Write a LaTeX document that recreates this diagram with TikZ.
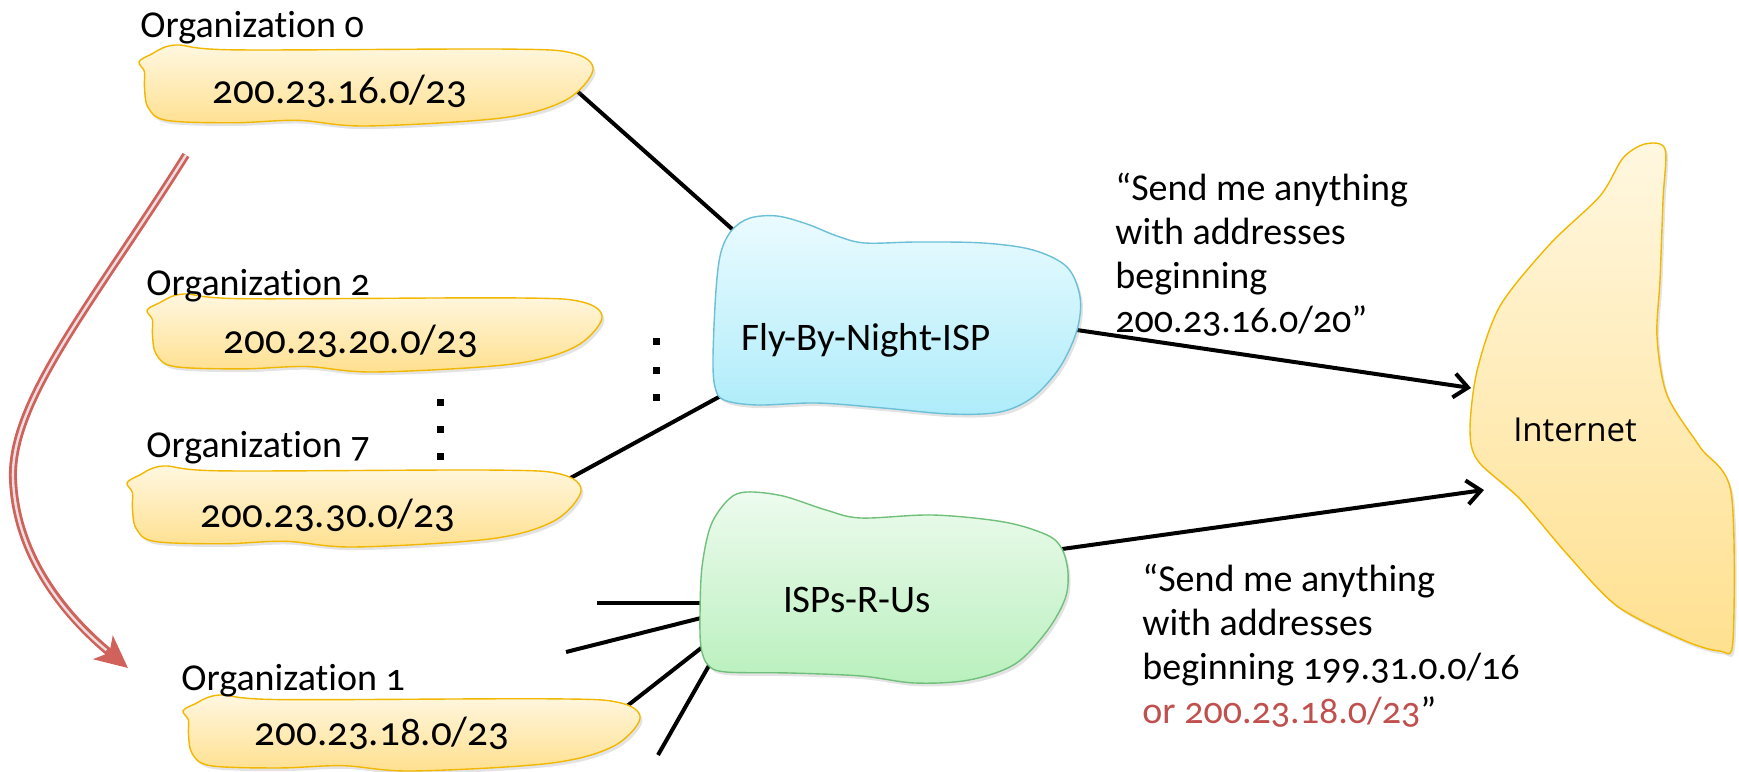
\documentclass[tikz,border=0pt]{standalone}
\usepackage{fontspec}
\setmainfont{Carlito}[Numbers=OldStyle, Ligatures=NoCommon]
\newfontfamily\inetfont{Open Sans}
\usepackage{xcolor}
\usetikzlibrary{arrows.meta,shadows,backgrounds}
\definecolor{orgtop}{HTML}{FFF7E0}
\definecolor{orgbot}{HTML}{FFE08F}
\definecolor{orgline}{HTML}{F2B700}
\definecolor{flytop}{HTML}{EAFBFF}
\definecolor{flybot}{HTML}{AEECFA}
\definecolor{flyline}{HTML}{6BBFD6}
\definecolor{isptop}{HTML}{EDFBEE}
\definecolor{ispbot}{HTML}{B9F0BD}
\definecolor{ispline}{HTML}{70BF7A}
\definecolor{movered}{HTML}{D0615B}
\definecolor{movecore}{HTML}{E8E0E0}
\definecolor{notered}{HTML}{C0504D}
\tikzset{
  blobshadow/.style={drop shadow={shadow xshift=1.2pt, shadow yshift=-1.6pt, opacity=0.22}},
  orgblob/.style={blobshadow, draw=orgline, line width=0.7pt, top color=orgtop, bottom color=orgbot},
  flyblob/.style={blobshadow, draw=flyline, line width=0.7pt, top color=flytop, bottom color=flybot},
  ispblob/.style={blobshadow, draw=ispline, line width=0.7pt, top color=isptop, bottom color=ispbot},
  link/.style={line width=2pt, draw=black},
  route/.style={link, -{Straight Barb[length=7pt,width=12pt]}},
  movearrow/.style={line width=4pt, draw=movered, -{Stealth[length=16pt,width=15pt,inset=4pt]},
    postaction={draw=movecore, line width=1.2pt, -, shorten >=14pt}},
  addr/.style={font=\fontsize{20.5}{24}\selectfont, inner sep=0pt, anchor=base},
  orglabel/.style={font=\fontsize{19}{23}\selectfont, inner sep=0pt, anchor=base west},
  ispname/.style={font=\fontsize{19.5}{23}\selectfont, inner sep=0pt, anchor=base},
  inetname/.style={font=\inetfont\fontsize{16.5}{20}\selectfont, inner sep=0pt, anchor=base},
  note/.style={font=\fontsize{19}{22}\selectfont, align=left, inner sep=0pt, anchor=base west}
}

\newcommand\orgcloud[5]{%
  \pgfmathsetmacro\cw{#4*0.5}\pgfmathsetmacro\ch{#5*0.5}%
  \begin{scope}[shift={(#2,#3)}, x=\cw pt, y=-\ch pt]
    \draw[orgblob] plot[smooth cycle, tension=0.55] coordinates {(0,0.21) (0.012,0.33) (0.012,0.52)
      (0.02,0.77) (0.06,0.93) (0.21,0.96) (0.35,0.93) (0.5,1.0) (0.8,0.9) (0.94,0.68) (1.0,0.31)
      (0.955,0.1) (0.8,0.05) (0.21,0.06) (0.08,0.0) (0.025,0.12)};
    \coordinate (#1-ne) at (0.96,0.2);
    \coordinate (#1-e) at (0.965,0.57);
  \end{scope}}

\begin{document}
\begin{tikzpicture}[x=0.5pt, y=-0.5pt]
  \useasboundingbox (0,0) rectangle (1739,771);

  \coordinate (mv-start) at (186,155);
  \coordinate (mv-end) at (128,668);
  \draw[movearrow] (mv-start) .. controls (95,300) and (10,400) .. (13,479)
    .. controls (16,560) and (70,620) .. (mv-end);

  \orgcloud{o0}{139}{45}{454}{81}
  \orgcloud{o2}{147}{294}{455}{78}
  \orgcloud{o7}{127}{466}{454}{81}
  \orgcloud{o1}{183}{695}{457}{76}

  \draw[flyblob] plot[smooth cycle, tension=0.55] coordinates {(732,230) (750,218) (777,216) (807,224)
    (837,236) (865,243) (917,242) (983,243) (1033,250) (1067,267) (1080,297) (1077,330) (1060,367)
    (1033,397) (1000,412) (950,414) (883,408) (817,403) (757,405) (724,400) (715,387) (713,357)
    (716,290) (721,252)};
  \coordinate (fbn-in0) at (740,236);
  \coordinate (fbn-in7) at (728,392);
  \coordinate (fbn-out) at (1070,329);

  \draw[ispblob] plot[smooth cycle, tension=0.55] coordinates {(729,499) (747,492) (783,496) (826,510)
    (861,518) (933,515) (1004,522) (1047,535) (1062,549) (1068,573) (1065,599) (1047,631) (1015,664)
    (969,680) (915,683) (861,676) (790,673) (726,672) (708,665) (701,647) (700,615) (702,567) (711,525)};
  \coordinate (isp-in1) at (705,603);
  \coordinate (isp-in2) at (705,617);
  \coordinate (isp-in3) at (705,645);
  \coordinate (isp-in4) at (711,662);
  \coordinate (isp-out) at (1055,550);

  \draw[orgblob] plot[smooth cycle, tension=0.5] coordinates {(1645,144) (1665,149) (1663,200)
    (1660,280) (1657,337) (1667,395) (1700,447) (1731,492) (1733,640) (1720,651) (1683,640) (1617,606)
    (1567,554) (1520,499) (1478,461) (1470,430) (1477,371) (1500,306) (1550,244) (1600,196) (1623,158)};
  \coordinate (inet-in1) at (1471,388);
  \coordinate (inet-in2) at (1484,490);

  \coordinate (isp-f1) at (597,603);
  \coordinate (isp-f2) at (566,652);
  \coordinate (isp-f4) at (658,755);

  \begin{scope}[on background layer]
    \draw[link] (o0-e) -- (fbn-in0);
    \draw[link] (o7-ne) -- (fbn-in7);
    \draw[link] (isp-f1) -- (isp-in1);
    \draw[link] (isp-f2) -- (isp-in2);
    \draw[link] (o1-ne) -- (isp-in3);
    \draw[link] (isp-f4) -- (isp-in4);
    \draw[route] (fbn-out) -- (inet-in1);
    \draw[route] (isp-out) -- (inet-in2);
  \end{scope}

  \foreach \y in {402,429,456} \fill (436.5,\y-3.5) rectangle ++(7,7);
  \foreach \y in {341,370,397} \fill (652.5,\y-3.5) rectangle ++(7,7);

  \node[orglabel] (o0lbl) at (140,37) {Organization 0};
  \node[addr] (o0addr) at (340,103) {200.23.16.0/23};
  \node[orglabel] (o2lbl) at (146,295) {Organization 2};
  \node[addr] (o2addr) at (351,353) {200.23.20.0/23};
  \node[orglabel] (o7lbl) at (146,457) {Organization 7};
  \node[addr] (o7addr) at (328,527) {200.23.30.0/23};
  \node[orglabel] (o1lbl) at (181,690) {Organization 1};
  \node[addr] (o1addr) at (382,745) {200.23.18.0/23};

  \node[ispname] (fbnlbl) at (866,350) {Fly-By-Night-ISP};
  \node[ispname] (isplbl) at (857,612) {ISPs-R-Us};
  \node[inetname] (inetlbl) at (1575,441) {Internet};

  \node[note] (fbnnote) at (1115,332) {“Send me anything\\with addresses\\beginning\\200.23.16.0/20”};
  \node[note] (ispnote) at (1142,723) {“Send me anything\\with addresses\\beginning 199.31.0.0/16\\\textcolor{notered}{or 200.23.18.0/23}”};
\end{tikzpicture}
\end{document}
